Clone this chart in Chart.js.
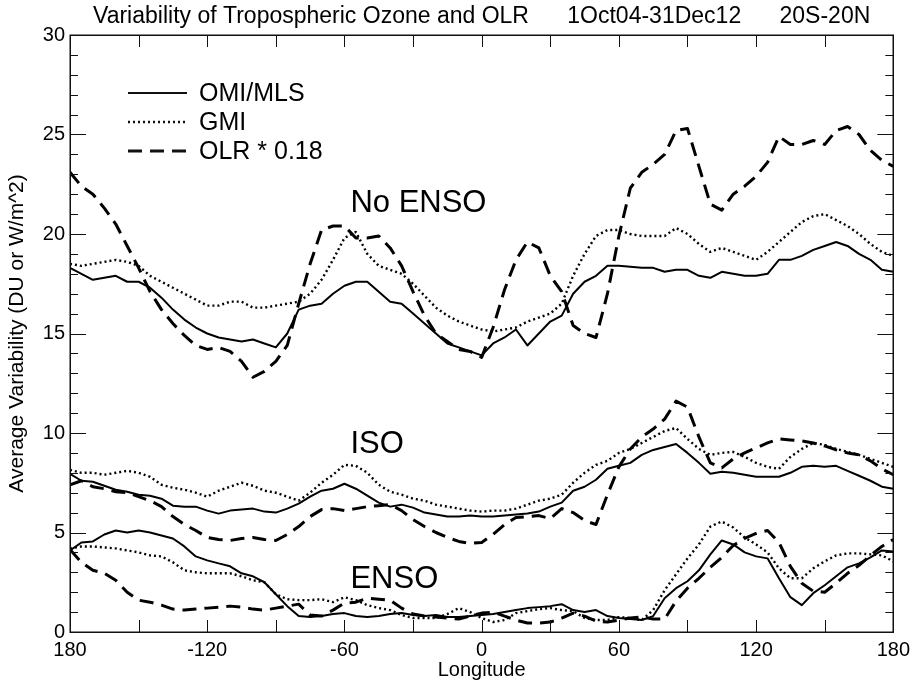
<!DOCTYPE html>
<html><head><meta charset="utf-8">
<script src="https://cdn.jsdelivr.net/npm/chart.js@4.4.1/dist/chart.umd.min.js"></script>
<style>html,body{margin:0;padding:0;background:#fff;}canvas{display:block;}</style>
</head><body>
<canvas id="c" width="916" height="685"></canvas>
<script>
// ---- data ----
const lon = [-180,-175,-170,-165,-160,-155,-150,-145,-140,-135,
  -130,-125,-120,-115,-110,-105,-100,-95,-90,-85,
  -80,-75,-70,-65,-60,-55,-50,-45,-40,-35,
  -30,-25,-20,-15,-10,-5,0,5,10,15,
  20,25,30,35,40,45,50,55,60,65,
  70,75,80,85,90,95,100,105,110,115,
  120,125,130,135,140,145,150,155,160,165,
  170,175,180];

const omiNoEnso = [18.3,18.0,17.7,17.8,17.9,17.6,17.6,17.3,16.8,16.2,
  15.7,15.3,15.0,14.8,14.7,14.6,14.7,14.5,14.3,15.0,
  16.2,16.4,16.5,17.0,17.4,17.6,17.6,17.1,16.6,16.5,
  16.0,15.5,15.0,14.5,14.3,14.1,13.9,14.5,14.8,15.2,
  14.4,15.0,15.6,15.9,17.0,17.6,17.9,18.4,18.4,18.35,
  18.3,18.3,18.1,18.2,18.2,17.9,17.8,18.1,18.0,17.9,
  17.9,18.0,18.7,18.7,18.9,19.2,19.4,19.6,19.4,19.0,
  18.7,18.2,18.1];
const gmiNoEnso = [18.5,18.4,18.5,18.6,18.7,18.6,18.4,17.9,17.6,17.3,
  17.0,16.7,16.4,16.4,16.6,16.6,16.3,16.3,16.4,16.5,
  16.6,17.0,17.7,18.7,19.8,20.1,19.0,18.4,18.2,18.0,
  17.5,16.9,16.3,15.9,15.6,15.4,15.2,15.1,15.2,15.3,
  15.6,15.8,16.0,16.5,17.9,19.0,19.9,20.2,20.2,20.0,
  19.9,19.9,19.9,20.3,20.0,19.5,19.1,19.3,19.1,18.9,
  18.7,19.1,19.6,20.1,20.6,20.9,21.0,20.7,20.4,20.0,
  19.5,19.1,18.9];
const olrNoEnso = [23.1,22.4,22.0,21.3,20.5,19.4,18.3,17.1,16.2,15.5,
  14.9,14.4,14.2,14.3,14.1,13.6,12.8,13.1,13.6,14.4,
  16.5,18.5,20.2,20.4,20.4,19.8,19.8,19.9,19.3,18.4,
  17.1,15.9,15.0,14.6,14.2,14.1,13.8,15.3,17.2,18.7,
  19.6,19.3,17.9,17.1,15.4,15.0,14.8,17.0,19.9,22.3,
  23.1,23.5,24.0,25.2,25.3,23.4,21.5,21.2,22.0,22.4,
  22.9,23.6,24.9,24.5,24.5,24.7,24.5,25.2,25.4,25.0,
  24.2,23.7,23.4];

const omiIso = [7.95,7.6,7.55,7.35,7.15,7.05,6.9,6.85,6.7,6.35,
  6.3,6.3,6.1,5.95,6.1,6.15,6.2,6.05,6.0,6.2,
  6.45,6.8,7.1,7.2,7.45,7.2,6.85,6.5,6.3,6.4,
  6.25,6.0,5.9,5.8,5.8,5.85,5.8,5.8,5.85,5.9,
  5.95,6.05,6.3,6.5,7.1,7.3,7.65,8.2,8.35,8.5,
  8.9,9.15,9.3,9.45,9.0,8.5,7.95,8.05,8.0,7.9,
  7.8,7.8,7.8,8.0,8.3,8.35,8.3,8.35,8.1,7.85,
  7.6,7.3,7.2];
const gmiIso = [8.15,8.0,8.0,7.9,8.0,8.1,8.0,7.8,7.4,7.25,
  7.15,7.0,6.8,7.1,7.3,7.5,7.35,7.1,7.0,6.8,
  6.6,7.0,7.5,7.9,8.4,8.35,8.0,7.4,7.05,6.9,
  6.7,6.6,6.4,6.3,6.2,6.1,6.05,6.1,6.1,6.2,
  6.4,6.6,6.7,6.9,7.5,8.0,8.4,8.6,9.0,9.2,
  9.5,9.8,10.1,10.25,9.7,9.2,8.9,9.0,9.05,8.8,
  8.5,8.3,8.2,8.8,9.2,9.5,9.4,9.2,9.05,8.9,
  8.7,8.5,8.3];
const olrIso = [7.4,7.6,7.3,7.2,7.05,7.0,6.8,6.6,6.3,5.8,
  5.4,5.1,4.75,4.65,4.6,4.7,4.75,4.65,4.6,4.9,
  5.3,5.8,6.15,6.2,6.1,6.2,6.3,6.35,6.4,6.1,
  5.65,5.3,5.0,4.75,4.55,4.45,4.5,4.9,5.4,5.75,
  5.8,5.85,5.7,6.2,6.0,5.6,5.4,6.9,8.3,9.2,
  9.8,10.2,10.7,11.6,11.3,9.8,8.5,8.25,8.7,9.0,
  9.25,9.5,9.7,9.65,9.6,9.5,9.35,9.15,9.0,8.9,
  8.6,8.2,7.9];

const omiEnso = [4.1,4.5,4.55,4.9,5.1,5.0,5.1,5.0,4.85,4.7,
  4.3,3.8,3.6,3.45,3.3,2.95,2.8,2.5,1.9,1.3,
  0.8,0.75,0.8,0.9,0.95,0.8,0.75,0.8,0.9,0.95,
  0.85,0.8,0.85,0.75,0.75,0.8,0.85,0.9,1.0,1.1,
  1.2,1.25,1.3,1.4,1.1,1.0,1.1,0.8,0.7,0.65,
  0.6,0.8,1.7,2.2,2.55,3.1,3.9,4.6,4.4,4.0,
  3.8,3.7,2.7,1.75,1.35,1.95,2.35,2.8,3.25,3.45,
  3.75,4.1,4.05];
const gmiEnso = [4.2,4.3,4.3,4.25,4.2,4.1,4.0,3.85,3.8,3.5,
  3.1,3.0,2.95,2.95,2.95,2.8,2.6,2.5,1.9,1.65,
  1.6,1.6,1.65,1.5,1.75,1.6,1.35,1.2,1.1,0.85,
  0.7,0.7,0.7,0.9,1.2,1.0,0.7,0.5,0.6,0.95,
  1.05,1.15,1.2,1.1,1.05,0.7,0.6,0.6,0.75,0.7,
  0.6,1.1,2.1,2.9,3.7,4.4,5.3,5.55,5.25,4.75,
  4.4,4.0,3.2,2.7,2.7,3.2,3.55,3.85,3.95,3.95,
  3.9,3.85,3.55];
const olrEnso = [4.15,3.5,3.1,2.95,2.6,2.0,1.6,1.5,1.35,1.15,
  1.1,1.15,1.2,1.25,1.3,1.25,1.15,1.1,1.2,1.3,
  1.4,0.85,0.8,1.1,1.45,1.5,1.7,1.65,1.6,1.2,
  0.9,0.8,0.75,0.7,0.65,0.8,0.95,1.0,0.8,0.6,
  0.45,0.45,0.5,0.7,0.95,0.8,0.55,0.5,0.6,0.7,
  0.75,0.65,0.65,1.55,2.2,2.7,3.25,3.75,4.35,4.7,
  4.95,5.1,4.5,3.3,2.45,2.05,2.0,2.45,2.95,3.35,
  3.85,4.3,4.65];

const seriesNames = ['OMI/MLS', 'GMI', 'OLR * 0.18'];
const groupNames = ['No ENSO', 'ISO', 'ENSO'];
const xTickLabels = {'-180':'180','-120':'-120','-60':'-60','0':'0','60':'60','120':'120','180':'180'};
const titleText = 'Variability of Tropospheric Ozone and OLR      1Oct04-31Dec12      20S-20N';

// ---- styling ----
const FONT = "'Liberation Sans', Arial, Helvetica, sans-serif";
const styles = {
  solid: {borderWidth: 2, borderDash: []},
  dot:   {borderWidth: 2.4, borderDash: [2, 3]},
  dash:  {borderWidth: 3, borderDash: [14, 8]}
};
function mk(name, vals, kind) {
  return Object.assign({
    label: name,
    data: lon.map((x, i) => ({x: x, y: vals[i]})),
    borderColor: '#000', backgroundColor: '#000',
    pointRadius: 0, fill: false, tension: 0,
    borderJoinStyle: 'round', borderCapStyle: 'butt'
  }, styles[kind]);
}
const datasets = [
  mk(seriesNames[0], omiNoEnso, 'solid'),
  mk(seriesNames[1], gmiNoEnso, 'dot'),
  mk(seriesNames[2], olrNoEnso, 'dash'),
  mk(seriesNames[0], omiIso, 'solid'),
  mk(seriesNames[1], gmiIso, 'dot'),
  mk(seriesNames[2], olrIso, 'dash'),
  mk(seriesNames[0], omiEnso, 'solid'),
  mk(seriesNames[1], gmiEnso, 'dot'),
  mk(seriesNames[2], olrEnso, 'dash')
];

// frame + inward ticks + title + legend + group labels
const decor = {
  id: 'decor',
  afterDatasetsDraw(chart, args, opts) {
    const {ctx, chartArea: a, scales: {x, y}} = chart;
    ctx.save();
    ctx.strokeStyle = '#111';
    ctx.lineWidth = 1;
    ctx.setLineDash([]);
    ctx.beginPath();
    for (let v = -180; v <= 180; v += 30) {
      const px = Math.round(x.getPixelForValue(v)) + 0.5;
      ctx.moveTo(px, a.bottom); ctx.lineTo(px, a.bottom - 12);
      ctx.moveTo(px, a.top); ctx.lineTo(px, a.top + 12);
    }
    for (let v = 0; v <= 30; v += 1) {
      const py = Math.round(y.getPixelForValue(v)) + 0.5;
      const len = v % 5 === 0 ? 16 : 8;
      ctx.moveTo(a.left, py); ctx.lineTo(a.left + len, py);
      ctx.moveTo(a.right, py); ctx.lineTo(a.right - len, py);
    }
    ctx.stroke();
    ctx.lineWidth = 1.5;
    ctx.strokeRect(Math.round(a.left) + 0.25, Math.round(a.top) + 0.25, Math.round(a.right - a.left), Math.round(a.bottom - a.top));

    // title
    ctx.fillStyle = '#000';
    ctx.font = '23px ' + FONT;
    ctx.textAlign = 'center';
    ctx.textBaseline = 'alphabetic';
    ctx.fillText(titleText, (a.left + a.right) / 2, 23);

    // legend (uses dataset styles)
    ctx.textAlign = 'left';
    ctx.textBaseline = 'middle';
    ctx.font = opts.legendFont + 'px ' + FONT;
    opts.legendRows.forEach((rowY, i) => {
      const ds = chart.data.datasets[i];
      ctx.lineWidth = ds.borderWidth;
      ctx.setLineDash(ds.borderDash || []);
      ctx.beginPath();
      ctx.moveTo(opts.legendX0, rowY); ctx.lineTo(opts.legendX1, rowY);
      ctx.stroke();
      ctx.setLineDash([]);
      ctx.fillText(ds.label, opts.legendTextX, rowY + 1);
    });

    // group labels placed in data coordinates
    ctx.font = opts.groupFont + 'px ' + FONT;
    ctx.textBaseline = 'alphabetic';
    groupNames.forEach((g, i) => {
      const anc = opts.groupAnchors[i];
      ctx.fillText(g, x.getPixelForValue(anc[0]), y.getPixelForValue(anc[1]));
    });
    ctx.restore();
  }
};

new Chart(document.getElementById('c'), {
  type: 'line',
  data: {datasets: datasets},
  plugins: [decor],
  options: {
    responsive: false, animation: false, devicePixelRatio: 1,
    layout: {padding: {top: 35, right: 18, left: 0, bottom: 0}},
    plugins: {
      legend: {display: false}, tooltip: {enabled: false}, title: {display: false},
      decor: {
        legendRows: [93, 122, 151], legendX0: 128, legendX1: 187, legendTextX: 199, legendFont: 25,
        groupFont: 31,
        groupAnchors: [[-57.4, 21.1], [-57.4, 9.0], [-57.4, 2.2]]
      }
    },
    scales: {
      x: {
        type: 'linear', min: -180, max: 180,
        grid: {display: false, drawTicks: false}, border: {display: false},
        ticks: {stepSize: 60, autoSkip: false, maxRotation: 0, padding: 6, color: '#000',
          font: {family: FONT, size: 20},
          callback: v => xTickLabels[String(v)] !== undefined ? xTickLabels[String(v)] : ''},
        title: {display: true, text: 'Longitude', color: '#000', font: {family: FONT, size: 20}, padding: {top: 0, bottom: 3}},
        afterFit(s) { s.height = 53; }
      },
      y: {
        min: 0, max: 30,
        grid: {display: false, drawTicks: false}, border: {display: false},
        ticks: {stepSize: 5, padding: 5, color: '#000', font: {family: FONT, size: 20}},
        title: {display: true, text: 'Average Variability (DU or W/m^2)', color: '#000', font: {family: FONT, size: 21}, padding: {top: 5, bottom: 0}},
        afterFit(s) { s.width = 70; }
      }
    }
  }
});
</script>
</body></html>
